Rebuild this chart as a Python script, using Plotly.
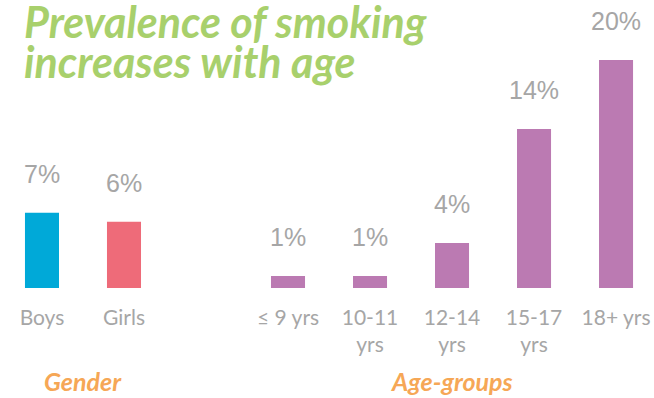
import plotly.graph_objects as go

categories = ["Boys", "Girls", "≤ 9 yrs", "10-11<br>yrs", "12-14<br>yrs", "15-17<br>yrs", "18+ yrs"]
positions = [0, 1, 3, 4, 5, 6, 7]
values = [6.6, 5.8, 1.05, 1.05, 3.95, 13.95, 20.0]
value_labels = ["7%", "6%", "1%", "1%", "4%", "14%", "20%"]
bar_colors = ["#00A9D8", "#EE6B79", "#BB7AB2", "#BB7AB2", "#BB7AB2", "#BB7AB2", "#BB7AB2"]
groups = ["Gender", "Age-groups"]
group_positions = [0.5, 5]
title_lines = ["Prevalence of smoking", "increases with age"]

GREY = "#A6A6A6"

fig = go.Figure(go.Bar(
    x=positions, y=values, marker=dict(color=bar_colors, line=dict(width=0)),
    width=0.415, hoverinfo="skip",
))

annotations = []
for x, v, t in zip(positions, values, value_labels):
    annotations.append(dict(x=x, y=v, text=t, showarrow=False, xref="x", yref="y",
                            yanchor="middle", yshift=39,
                            font=dict(family="Liberation Sans, Arial", size=25, color=GREY)))
for g, gx in zip(groups, group_positions):
    annotations.append(dict(x=gx, y=0, text=f"<b><i>{g}</i></b>", showarrow=False, xref="x", yref="y",
                            yanchor="middle", yshift=-93,
                            font=dict(family="Lato", size=25, color="#F6A756")))
for i, line in enumerate(title_lines):
    annotations.append(dict(x=0, y=1, xref="paper", yref="paper", xanchor="left", yanchor="top",
                            xshift=22, yshift=6 - 40 * i, align="left", showarrow=False,
                            text=f"<b><i>{line}</i></b>",
                            font=dict(family="Lato", size=43, color="#A8D06C")))

fig.update_layout(
    width=654, height=398, margin=dict(l=0, r=0, t=0, b=110),
    paper_bgcolor="white", plot_bgcolor="white", showlegend=False,
    xaxis=dict(range=[-0.512, 7.463], tickvals=positions, ticktext=categories,
               showgrid=False, zeroline=False, showline=False, ticks="",
               ticklabelstandoff=15,
               tickfont=dict(family="Lato", size=21, color=GREY), fixedrange=True),
    yaxis=dict(range=[0, 25.26], visible=False, fixedrange=True),
    annotations=annotations,
)

fig.write_html("out.html", config={"displayModeBar": False})
